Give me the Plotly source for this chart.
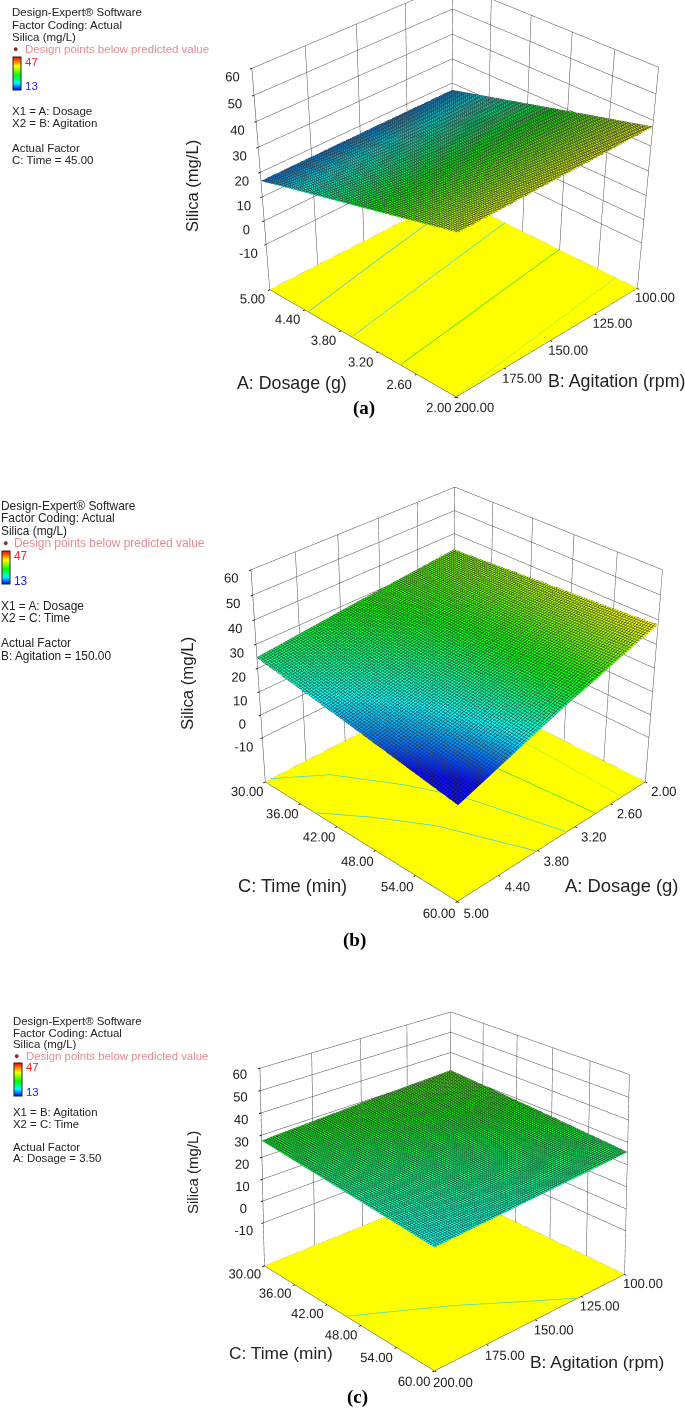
# Silica response surfaces (a), (b), (c) drawn as three overlaid 3D scenes

from math import atan, cos, radians, sin, tan

import plotly.graph_objects as go

PAGE_W = 685
PAGE_H = 1410

# factor axes
dosage_ticks = [2.0, 2.6, 3.2, 3.8, 4.4, 5.0]
agitation_ticks = [100, 125, 150, 175, 200]
time_ticks = [30, 36, 42, 48, 54, 60]
silica_ticks = [-30, -10, 0, 10, 20, 30, 40, 50, 60]
silica_labels = ["", "-10", "0", "10", "20", "30", "40", "50", "60"]

# panel (a) surface, rows follow agitation, columns follow dosage
a_x = [2.0, 3.5, 5.0]
a_y = [100, 150, 200]
a_z = [[37.5, 27.3, 17.0],
       [37.0, 27.0, 16.8],
       [36.5, 26.5, 16.5]]

# panel (b) surface, rows follow time, columns follow dosage
b_x = [2.0, 3.5, 5.0]
b_y = [30, 45, 60]
b_z = [[33.0, 29.0, 24.5],
       [35.5, 25.5, 17.5],
       [38.0, 25.0, 10.0]]

# panel (c) surface, rows follow time, columns follow agitation
c_x = [100, 150, 200]
c_y = [30, 45, 60]
c_z = [[31.0, 29.5, 27.5],
       [28.5, 26.0, 24.0],
       [25.6, 23.0, 20.3]]

# contour lines on the floor
a_lines = [
    ([4.33, 4.60, 4.85], [200, 150, 100], "#45c8e8"),
    ([3.61, 3.85, 4.08], [200, 150, 100], "#40e0c8"),
    ([2.84, 3.02, 3.20], [200, 150, 100], "#35e035"),
    ([2.00, 2.16, 2.32], [200, 150, 100], "#b8f040"),
]
b_lines = [
    ([4.93, 4.40, 3.96, 3.66, 3.35], [30, 34.2, 41.4, 47.8, 60], "#40dcc0"),
    ([5.00, 4.62, 4.25, 3.83], [38.6, 43.6, 49.5, 60], "#45c8e8"),
    ([3.05, 2.95, 2.87], [40, 50, 60], "#35e035"),
    ([2.35, 2.38, 2.42], [40, 50, 60], "#b8f040"),
]
c_lines = [
    ([200, 166, 145, 128], [45.6, 51.8, 56.4, 60], "#40dcc0"),
]

SILICA_SCALE = [[0, "#0000ff"], [0.21, "#00ffff"], [0.45, "#00ff00"], [0.72, "#ffff00"], [1, "#ff0000"]]
FLOOR_Z = -29.9
TEXT = "#222222"
PINK = "#e98a8e"


def make_camera(elev, azim, top, height, box_x, box_y, box_w, left=190):
    """Camera for a viewport, aimed so the box lands at box_x, box_y in page pixels"""
    focal = 1.207 * height
    mid_y = top + height / 2
    mid_x = (left + PAGE_W) / 2
    tilt = atan((mid_y - box_y) / focal)
    dist = focal * 1.414 / (box_w * cos(tilt))
    e, a = radians(elev), radians(azim)
    eye = [dist * cos(e) * cos(a), dist * cos(e) * sin(a), dist * sin(e)]
    up_dir = [-sin(e) * cos(a), -sin(e) * sin(a), cos(e)]
    right_dir = [-sin(a), cos(a), 0]
    if eye[0] * right_dir[1] - eye[1] * right_dir[0] < 0:
        right_dir = [-v for v in right_dir]
    shift_v = dist * tan(tilt)
    shift_h = dist * (box_x - mid_x) / focal
    center = [-shift_v * up_dir[i] - shift_h * right_dir[i] for i in range(3)]
    return dict(
        eye=dict(x=eye[0], y=eye[1], z=eye[2]),
        center=dict(x=center[0], y=center[1], z=center[2]),
        up=dict(x=0, y=0, z=1),
        projection=dict(type="perspective"),
    )


def axis(ticks, labels):
    return dict(
        range=[min(ticks), max(ticks)],
        tickvals=ticks,
        ticktext=labels,
        tickangle=0,
        title=dict(text=""),
        tickfont=dict(family="Liberation Sans", size=12.5, color=TEXT),
        showgrid=True,
        gridcolor="#444444",
        gridwidth=1,
        showbackground=False,
        zeroline=False,
        showspikes=False,
        showline=True,
        linecolor="#333333",
        linewidth=1,
        ticks="outside",
        ticklen=2,
        tickcolor="#111111",
        tickwidth=2,
    )


def fmt(ticks):
    return [f"{t:.2f}" for t in ticks]


def add_panel(fig, name, xs, ys, zs, x_ticks, y_ticks, lines, bar):
    fig.add_trace(go.Surface(
        x=[x_ticks[0], x_ticks[-1]], y=[y_ticks[0], y_ticks[-1]],
        z=[[FLOOR_Z, FLOOR_Z], [FLOOR_Z, FLOOR_Z]],
        surfacecolor=[[0, 0], [0, 0]],
        colorscale=[[0, "#ffff00"], [1, "#ffff00"]],
        showscale=False,
        lighting=dict(ambient=1, diffuse=0, specular=0, roughness=1, fresnel=0),
        hoverinfo="skip",
        scene=name,
    ))
    for lx, ly, color in lines:
        fig.add_trace(go.Scatter3d(
            x=lx, y=ly, z=[FLOOR_Z + 0.3] * len(lx),
            mode="lines", line=dict(color=color, width=1.5),
            showlegend=False, hoverinfo="skip", scene=name,
        ))
    x_size = (x_ticks[-1] - x_ticks[0]) / 90
    y_size = (y_ticks[-1] - y_ticks[0]) / 90
    fig.add_trace(go.Surface(
        x=xs, y=ys, z=zs,
        cmin=13, cmax=47,
        colorscale=SILICA_SCALE,
        lighting=dict(ambient=1, diffuse=0, specular=0, roughness=1, fresnel=0),
        contours=dict(
            x=dict(show=True, start=x_ticks[0], end=x_ticks[-1], size=x_size, color="rgba(0,0,0,0.8)", width=1),
            y=dict(show=True, start=y_ticks[0], end=y_ticks[-1], size=y_size, color="rgba(0,0,0,0.8)", width=1),
        ),
        colorbar=dict(
            x=bar[0] / PAGE_W, xanchor="left", y=1 - bar[1] / PAGE_H, yanchor="top",
            thickness=8, thicknessmode="pixels", len=33, lenmode="pixels",
            showticklabels=False, ticks="", xpad=0, ypad=0,
            outlinecolor="#222222", outlinewidth=1,
        ),
        hoverinfo="skip",
        scene=name,
    ))


def scene_layout(x_ticks, y_ticks, camera, top, height, z_aspect, left=190):
    return dict(
        domain=dict(
            x=[left / PAGE_W, 1],
            y=[max(0, 1 - (top + height) / PAGE_H), 1 - top / PAGE_H],
        ),
        bgcolor="rgba(0,0,0,0)",
        aspectmode="manual",
        aspectratio=dict(x=1, y=1, z=z_aspect),
        xaxis=axis(x_ticks, fmt(x_ticks)),
        yaxis=axis(y_ticks, fmt(y_ticks)),
        zaxis=axis(silica_ticks, silica_labels),
        camera=camera,
    )


def note(x, y, text, size=11, color=TEXT, family="Liberation Sans", anchor="left", angle=0):
    return dict(
        x=x / PAGE_W, y=1 - y / PAGE_H, xref="paper", yref="paper",
        text=text, showarrow=False, xanchor=anchor, yanchor="middle", textangle=angle,
        font=dict(family=family, size=size, color=color),
    )


def legend_notes(x, rows, lines, size=11):
    items = []
    for y, text in zip(rows, lines):
        items.append(note(x, y, text, size=size))
    return items


fig = go.Figure()
add_panel(fig, "scene", a_x, a_y, a_z, dosage_ticks, agitation_ticks, a_lines, (13, 57))
add_panel(fig, "scene2", b_x, b_y, b_z, dosage_ticks, time_ticks, b_lines, (2, 551))
add_panel(fig, "scene3", c_x, c_y, c_z, agitation_ticks, time_ticks, c_lines, (14, 1063))

notes = []
# panel (a) side text
notes += legend_notes(10, [12, 25, 37, 111, 123, 148, 160],
                      ["Design-Expert® Software", "Factor Coding: Actual", "Silica (mg/L)",
                       "X1 = A: Dosage", "X2 = B: Agitation", "Actual Factor", "C: Time = 45.00"], size=11.5)
notes += [note(23, 49, "Design points below predicted value", size=11.5, color=PINK),
          note(11, 49, "●", size=9, color="#7a3434"),
          note(23, 62, "47", size=11.5, color="#ff2020"), note(23, 86, "13", size=11.5, color="#2020ff")]
# panel (b) side text
notes += legend_notes(-1, [506, 518, 531, 606, 618, 643, 656],
                      ["Design-Expert® Software", "Factor Coding: Actual", "Silica (mg/L)",
                       "X1 = A: Dosage", "X2 = C: Time", "Actual Factor", "B: Agitation = 150.00"], size=11.9)
notes += [note(12, 543, "Design points below predicted value", size=11.9, color=PINK),
          note(1, 543, "●", size=9, color="#7a3434"),
          note(12, 556, "47", size=11.9, color="#ff2020"), note(12, 581, "13", size=11.9, color="#2020ff")]
# panel (c) side text
notes += legend_notes(11, [1021, 1033, 1044, 1112, 1124, 1147, 1158],
                      ["Design-Expert® Software", "Factor Coding: Actual", "Silica (mg/L)",
                       "X1 = B: Agitation", "X2 = C: Time", "Actual Factor", "A: Dosage = 3.50"], size=11.4)
notes += [note(24, 1056, "Design points below predicted value", size=11.4, color=PINK),
          note(12, 1056, "●", size=9, color="#7a3434"),
          note(24, 1067, "47", size=11.4, color="#ff2020"), note(24, 1092, "13", size=11.4, color="#2020ff")]
# axis titles and panel letters
notes += [
    note(292, 383, "A: Dosage (g)", size=17.8, anchor="center"),
    note(616, 381, "B: Agitation (rpm)", size=17.8, anchor="center"),
    note(193, 186, "Silica (mg/L)", size=16.6, anchor="center", angle=-90),
    note(364, 408, "<b>(a)</b>", size=19, family="Liberation Serif", color="#000000", anchor="center"),
    note(292, 886, "C: Time (min)", size=18.2, anchor="center"),
    note(621, 885, "A: Dosage (g)", size=18.4, anchor="center"),
    note(187, 683, "Silica (mg/L)", size=16.8, anchor="center", angle=-90),
    note(354, 940, "<b>(b)</b>", size=19, family="Liberation Serif", color="#000000", anchor="center"),
    note(281, 1353, "C: Time (min)", size=17.3, anchor="center"),
    note(597, 1362, "B: Agitation (rpm)", size=17.4, anchor="center"),
    note(192, 1173, "Silica (mg/L)", size=15, anchor="center", angle=-90),
    note(357, 1397, "<b>(c)</b>", size=19, family="Liberation Serif", color="#000000", anchor="center"),
]

fig.update_layout(
    width=PAGE_W,
    height=PAGE_H,
    margin=dict(l=0, r=0, t=0, b=0),
    paper_bgcolor="white",
    showlegend=False,
    annotations=notes,
    scene=scene_layout(dosage_ticks, agitation_ticks, make_camera(28.5, 134, 0, 1400, 451, 184, 386), 0, 1400, 0.88),
    scene2=scene_layout(dosage_ticks, time_ticks, make_camera(30.5, 44.2, 30, 1300, 456, 680, 395), 30, 1300, 0.88),
    scene3=scene_layout(agitation_ticks, time_ticks, make_camera(24.5, 47.5, 180, 1230, 444, 1172, 365), 180, 1230, 0.82),
)

fig.write_html("out.html", post_script="document.body.style.margin='0';", config=dict(displayModeBar=False))
